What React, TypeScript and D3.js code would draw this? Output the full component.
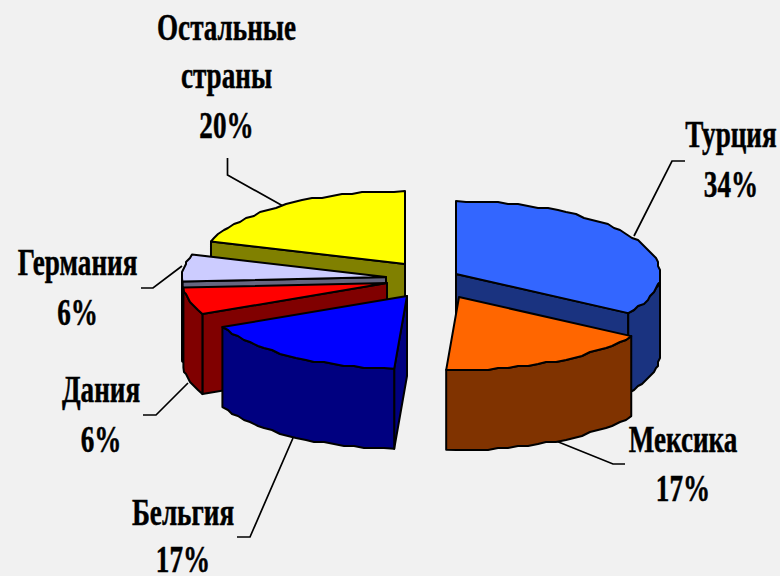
import React from "react";
import * as d3 from "d3";

const categories = ["Турция", "Мексика", "Бельгия", "Дания", "Германия", "Остальные страны"];
const shares = [34, 17, 17, 6, 6, 20];
const topColors = ["#3366FF", "#FF6600", "#0000FF", "#FF0000", "#CCCCFF", "#FFFF00"];
const wallColors = ["#1A3380", "#803300", "#000080", "#800000", "#666680", "#808000"];

// layout
const W = 780, H = 576;
const RX = 204, RY = 73, DEPTH = 80;
const STEP = 2;
const apexes: [number, number][] = [[456, 274], [459, 297], [407, 296], [387, 283], [386, 277], [405, 264]];
const drawOrder = [5, 4, 3, 2, 0, 1];
const leaders: [number, number][][] = [
  [[685, 161], [672, 161], [634, 236]],
  [[625, 464], [613, 464], [556, 441]],
  [[237, 537], [250, 537], [293, 438]],
  [[143, 415], [156, 415], [188, 383]],
  [[141, 288], [153, 288], [182, 266]],
  [[227.5, 158], [227.5, 175], [283, 206]],
];
const labelLines: { lines: string[]; x: number; y: number[] }[] = [
  { lines: ["Турция", "34%"], x: 731, y: [147, 197] },
  { lines: ["Мексика", "17%"], x: 683, y: [452, 501] },
  { lines: ["Бельгия", "17%"], x: 183, y: [525, 572] },
  { lines: ["Дания", "6%"], x: 101, y: [402, 452] },
  { lines: ["Германия", "6%"], x: 77.5, y: [275, 325] },
  { lines: ["Остальные", "страны", "20%"], x: 226.5, y: [40, 88, 138] },
];
const SX = 0.705;
const FONT = 38.5;

const line = d3.line<[number, number]>().x(d => d[0]).y(d => d[1]);
const TAU = Math.PI * 2;
const angles = d3.pie<number>().sort(null).startAngle(0).endAngle(TAU)(shares);

function rim(c: [number, number], a: number, drop = 0): [number, number] {
  return [c[0] + RX * Math.sin(a), c[1] - RY * Math.cos(a) + drop];
}
// the reference's rim is a coarse staircase: keep the end points exact, snap the rest
function sample(a0: number, a1: number): number[] {
  const n = Math.max(2, Math.ceil(((a1 - a0) * 180) / Math.PI / 3));
  return d3.range(n + 1).map(i => a0 + ((a1 - a0) * i) / n);
}
function rimPath(c: [number, number], a0: number, a1: number, drop = 0): [number, number][] {
  const s = sample(a0, a1);
  return s.map((a, i) => {
    const p = rim(c, a, drop);
    if (i === 0 || i === s.length - 1) return p;
    return [Math.round(p[0] / STEP) * STEP, Math.round(p[1] / STEP) * STEP] as [number, number];
  });
}

export default function App() {
  return (
    <svg width={W} height={H} viewBox={`0 0 ${W} ${H}`} style={{ position: "absolute", left: 0, top: 0, background: "#F1F1F1" }}>
      {leaders.map((pts, i) => (
        <path key={i} d={line(pts) || ""} fill="none" stroke="#000" strokeWidth={1.7} />
      ))}
      {drawOrder.map(i => {
        const { startAngle: a0, endAngle: a1 } = angles[i];
        const c = apexes[i];
        const walls: [number, number][][] = [];
        const face = (a: number) => [c, rim(c, a), rim(c, a, DEPTH), [c[0], c[1] + DEPTH]] as [number, number][];
        if (Math.sin(a0) < -1e-6) walls.push(face(a0));
        if (Math.sin(a1) > 1e-6) walls.push(face(a1));
        const w0 = Math.max(a0, Math.PI / 2), w1 = Math.min(a1, Math.PI * 1.5);
        if (w1 > w0) {
          walls.push([...rimPath(c, w0, w1), ...rimPath(c, w0, w1, DEPTH).reverse()]);
        }
        const top: [number, number][] = [c, ...rimPath(c, a0, a1)];
        return (
          <g key={i} stroke="#000" strokeWidth={2} strokeLinejoin="round">
            {walls.map((w, j) => (
              <path key={j} d={(line(w) || "") + "Z"} fill={wallColors[i]} />
            ))}
            <path d={(line(top) || "") + "Z"} fill={topColors[i]} />
          </g>
        );
      })}
      <g fontFamily="'Liberation Serif', serif" fontWeight="bold" fontSize={FONT} fill="#000" stroke="#000" strokeWidth={0.5} textAnchor="middle">
        {labelLines.map((l, i) =>
          l.lines.map((t, j) => (
            <text key={`${i}-${j}`} transform={`translate(${l.x},${l.y[j]}) scale(${SX},1)`} aria-label={categories[i]}>
              {t}
            </text>
          ))
        )}
      </g>
    </svg>
  );
}
